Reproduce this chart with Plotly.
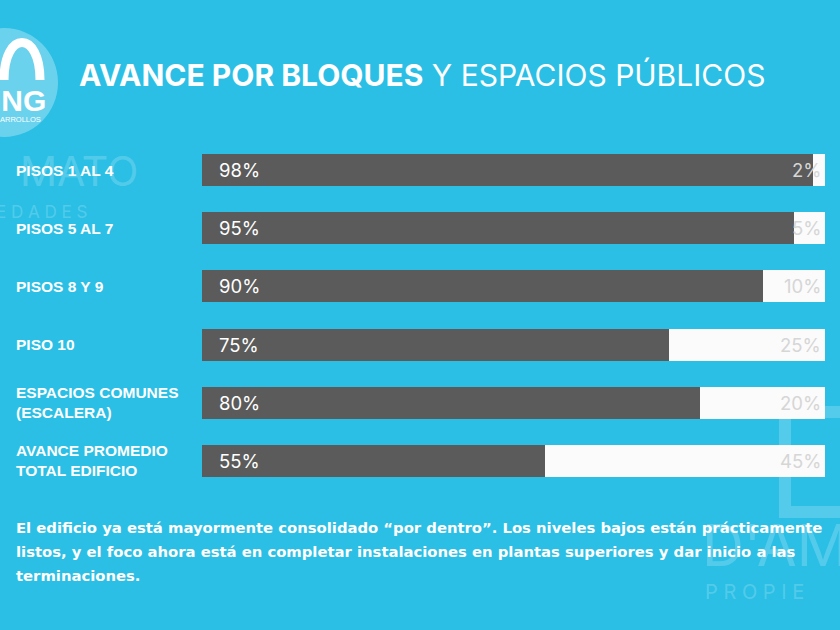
import plotly.graph_objects as go

# datos
categorias = ["PISOS 1 AL 4", "PISOS 5 AL 7", "PISOS 8 Y 9", "PISO 10",
              "ESPACIOS COMUNES<br>(ESCALERA)", "AVANCE PROMEDIO<br>TOTAL EDIFICIO"]
avance = [98, 95, 90, 75, 80, 55]
restante = [2, 5, 10, 25, 20, 45]

titulo_bold = "AVANCE POR BLOQUES"
titulo_resto = " Y ESPACIOS PÚBLICOS"
parrafo = [
    "El edificio ya está mayormente consolidado “por dentro”. Los niveles bajos están prácticamente",
    "listos, y el foco ahora está en completar instalaciones en plantas superiores y dar inicio a las",
    "terminaciones.",
]

fondo = "#2BBFE6"
gris = "#5B5B5B"
blanco = "#FBFBFB"
marca = "rgba(255,255,255,0.2)"
W, H = 840, 630


def px(x, y):
    # pixeles (desde arriba a la izquierda) -> coordenadas paper
    return x / W, 1 - y / H


trace0 = go.Bar(y=categorias, x=avance, orientation="h",
                marker=dict(color=gris, line=dict(width=0)),
                hoverinfo="skip", name="Avance")
trace1 = go.Bar(y=categorias, x=restante, orientation="h",
                marker=dict(color=blanco, line=dict(width=0)),
                hoverinfo="skip", name="Restante")

anotaciones = []

# marcas de agua (debajo del resto del texto)
def marca_agua(x, y, texto, size, color=marca, family="Inter"):
    xp, yp = px(x, y)
    return dict(x=xp, xref="paper", y=yp, yref="paper", text=texto,
                showarrow=False, xanchor="left", yanchor="middle",
                font=dict(family=family, size=size, color=color))


anotaciones += [
    marca_agua(18, 171, "MATO", 41),
    marca_agua(-6, 212, "E D A D E S", 17),
    marca_agua(700, 545, "D'AM", 58),
    marca_agua(703, 592, "P R O P I E", 20),
    marca_agua(-9, 100, "<b>ING</b>", 30, "white", "Liberation Sans"),
    marca_agua(-2, 119, "ARROLLOS", 7.5, "white", "Liberation Sans"),
]

for cat, a, r in zip(categorias, avance, restante):
    # etiqueta de la categoría a la izquierda
    anotaciones.append(dict(x=14 / W, xref="paper", y=cat, yref="y",
                            text="<b>" + cat + "</b>", showarrow=False,
                            xanchor="left", align="left",
                            font=dict(family="Liberation Sans", size=15.5, color="white")))
    # porcentaje de avance
    anotaciones.append(dict(x=0, xref="x", y=cat, yref="y", text=f"{a}%",
                            showarrow=False, xanchor="left", xshift=15,
                            font=dict(family="Inter", size=18.5, color="white")))
    # porcentaje restante
    anotaciones.append(dict(x=100, xref="x", y=cat, yref="y", text=f"{r}%",
                            showarrow=False, xanchor="right", xshift=-2,
                            font=dict(family="Inter", size=18.5, color="#D6D6D6")))

# título
xt, yt = px(77, 75)
anotaciones.append(dict(x=xt, xref="paper", y=yt, yref="paper",
                        text="<b>" + titulo_bold + "</b>" + titulo_resto,
                        showarrow=False, xanchor="left", yanchor="middle",
                        font=dict(family="Inter", size=30, color="white")))

# texto inferior
for i, linea in enumerate(parrafo):
    xl, yl = px(14, 527 + 24 * i)
    anotaciones.append(dict(x=xl, xref="paper", y=yl, yref="paper",
                            text="<b>" + linea + "</b>", showarrow=False,
                            xanchor="left", yanchor="middle",
                            font=dict(family="DejaVu Sans", size=14.8, color="white")))

# logo arriba a la izquierda y "D" de fondo abajo a la derecha
c0, c1 = px(-50, 137), px(58, 28)
a0, a1, a2, a3 = px(4, 80), px(4, 30), px(40, 30), px(40, 80)
d0, d1, d2, d3 = px(785, 512), px(785, 412), px(900, 412), px(900, 512)
formas = [
    dict(type="circle", xref="paper", yref="paper",
         x0=c0[0], x1=c1[0], y0=c0[1], y1=c1[1],
         fillcolor="rgba(255,255,255,0.3)", line=dict(width=0), layer="below"),
    dict(type="path", xref="paper", yref="paper",
         path=f"M {a0[0]},{a0[1]} C {a1[0]},{a1[1]} {a2[0]},{a2[1]} {a3[0]},{a3[1]}",
         line=dict(color="white", width=9)),
    dict(type="path", xref="paper", yref="paper",
         path=f"M {d3[0]},{d3[1]} L {d0[0]},{d0[1]} L {d1[0]},{d1[1]} L {d2[0]},{d2[1]}",
         line=dict(color=marca, width=12), layer="below"),
]

layout = go.Layout(
    barmode="stack", bargap=0.45, showlegend=False,
    width=W, height=H,
    paper_bgcolor=fondo, plot_bgcolor=fondo,
    margin=dict(l=0, r=0, t=0, b=0),
    xaxis=dict(domain=[202 / W, 825 / W], range=[0, 100], visible=False, fixedrange=True),
    yaxis=dict(domain=[1 - 490 / H, 1 - 141 / H], autorange="reversed",
               visible=False, fixedrange=True),
    annotations=anotaciones, shapes=formas,
)

fig = go.Figure(data=[trace0, trace1], layout=layout)
fig.write_html("out.html", config={"displayModeBar": False},
               post_script="document.body.style.margin='0';")
